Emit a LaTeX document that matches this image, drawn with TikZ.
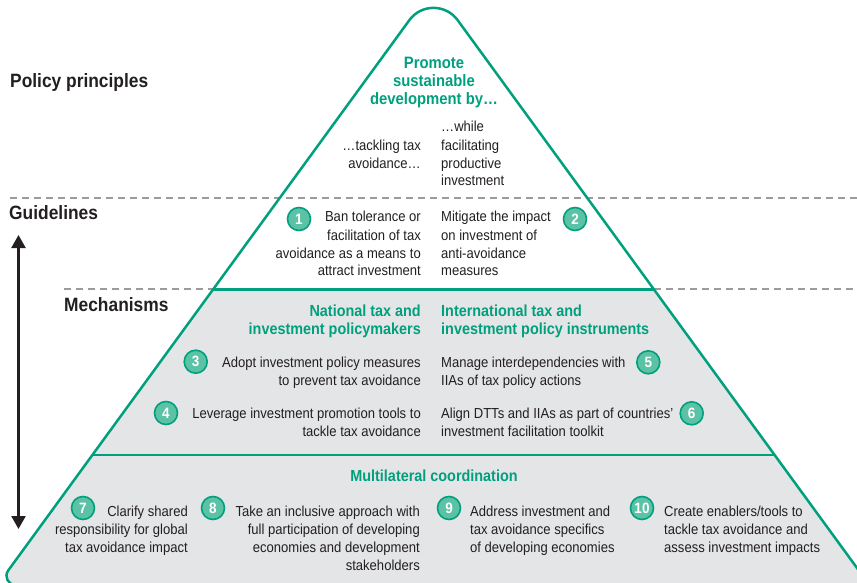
\documentclass[tikz,border=0pt]{standalone}
\usepackage{fontspec}
\setmainfont{Liberation Sans}[FakeStretch=0.9]
\usetikzlibrary{arrows.meta}
\definecolor{grn}{HTML}{00A07E}
\definecolor{cfill}{HTML}{5CC2A5}
\definecolor{gfill}{HTML}{E4E5E6}
\definecolor{txt}{HTML}{231F20}
\definecolor{dashc}{HTML}{9B9B9B}
\newcommand{\rtab}[1]{\begin{tabular}[t]{@{}r@{}}#1\end{tabular}}
\newcommand{\ltab}[1]{\begin{tabular}[t]{@{}l@{}}#1\end{tabular}}
\newcommand{\ctab}[1]{\begin{tabular}[t]{@{}c@{}}#1\end{tabular}}
\tikzset{
  body/.style={font=\fontsize{14.5}{18}\selectfont, text=txt, inner sep=0pt},
  ghead/.style={font=\bfseries\fontsize{16}{18}\selectfont, text=grn, inner sep=0pt},
  bhead/.style={font=\bfseries\fontsize{19.3}{22}\selectfont, text=txt, inner sep=0pt, anchor=base west},
  num/.style={circle, fill=cfill, draw=grn, line width=1.6pt, minimum size=23pt, inner sep=0pt,
    text=white, font=\bfseries\fontsize{15}{15}\selectfont},
  dashline/.style={dashc, line width=1.5pt, dash pattern=on 7pt off 5pt},
  pyrline/.style={grn, line width=2.5pt},
}
\begin{document}
\begin{tikzpicture}[x=1pt, y=-1pt]
\useasboundingbox (0,0) rectangle (857,583);
% dashed level separators
\draw[dashline] (10,198) -- (857,198);
\draw[dashline] (64,289) -- (213,289);
\draw[dashline] (654,289) -- (857,289);
% gray fill of lower part
\begin{scope}
\clip (-10,289) rectangle (870,600);
\fill[gfill] (409.4,20.1) .. controls (421.3,3.8) and (445.7,3.8) .. (457.6,20.1) -- (869.4,585)
  -- (15.6,585) .. controls (8.1,585) and (3.8,576.5) .. (8.2,570.5) -- cycle;
\end{scope}
% pyramid outline
\draw[pyrline, line join=round] (409.4,20.1) .. controls (421.3,3.8) and (445.7,3.8) .. (457.6,20.1) -- (869.4,585)
  -- (15.6,585) .. controls (8.1,585) and (3.8,576.5) .. (8.2,570.5) -- cycle;
\draw[pyrline] (213.3,289.3) -- (653.7,289.3);
\draw[pyrline] (92.9,455) -- (774.1,455);
% arrow
\coordinate (atop) at (18.5,235);
\coordinate (abot) at (18.5,529);
\draw[txt, line width=2.2pt, {Triangle[width=14pt,length=13pt]}-{Triangle[width=14pt,length=13pt]}] (atop) -- (abot);
% level labels
\node[bhead] (pp) at (10,88) {Policy principles};
\node[bhead] (gl) at (9,219) {Guidelines};
\node[bhead] (mc) at (64,311) {Mechanisms};
% top
\node[ghead, font=\bfseries\fontsize{16.5}{18}\selectfont, anchor=base] (promote) at (434,69) {\ctab{Promote\\sustainable\\development by…}};
\node[body, anchor=base east] (tack) at (421,150) {\rtab{…tackling tax\\avoidance…}};
\node[body, anchor=base west] (while) at (441,132) {\ltab{…while\\facilitating\\productive\\investment}};
% guidelines
\node[body, anchor=base east] (g1) at (421,222) {\rtab{Ban tolerance or\\facilitation of tax\\avoidance as a means to\\attract investment}};
\node[body, anchor=base west] (g2) at (441,222) {\ltab{Mitigate the impact\\on investment of\\anti-avoidance\\measures}};
\node[num] (n1) at (299,219) {1};
\node[num] (n2) at (575,219) {2};
% mechanisms
\node[ghead, anchor=base east] (nat) at (421,316) {\rtab{National tax and\\investment policymakers}};
\node[ghead, anchor=base west] (int) at (441,316) {\ltab{International tax and\\investment policy instruments}};
\node[body, anchor=base east] (m3) at (421,367) {\rtab{Adopt investment policy measures\\to prevent tax avoidance}};
\node[body, anchor=base west] (m5) at (441,367) {\ltab{Manage interdependencies with\\IIAs of tax policy actions}};
\node[body, anchor=base east] (m4) at (421,418) {\rtab{Leverage investment promotion tools to\\tackle tax avoidance}};
\node[body, anchor=base west] (m6) at (441,418) {\ltab{Align DTTs and IIAs as part of countries’\\investment facilitation toolkit}};
\node[num] (n3) at (195.7,361.7) {3};
\node[num] (n4) at (166,413) {4};
\node[num] (n5) at (648.3,362.3) {5};
\node[num] (n6) at (691.7,413.3) {6};
% multilateral
\node[ghead, anchor=base] (mult) at (434,481) {Multilateral coordination};
\node[body, anchor=base east] (m7) at (188,516.5) {\rtab{Clarify shared\\responsibility for global\\tax avoidance impact}};
\node[body, anchor=base east] (m8) at (420,516.5) {\rtab{Take an inclusive approach with\\full participation of developing\\economies and development\\stakeholders}};
\node[body, anchor=base west] (m9) at (470,516.5) {\ltab{Address investment and\\tax avoidance specifics\\of developing economies}};
\node[body, anchor=base west] (m10) at (664,516.5) {\ltab{Create enablers/tools to\\tackle tax avoidance and\\assess investment impacts}};
\node[num] (n7) at (83,508) {7};
\node[num] (n8) at (213,508) {8};
\node[num] (n9) at (449,508) {9};
\node[num] (n10) at (642,508) {10};
\end{tikzpicture}
\end{document}
